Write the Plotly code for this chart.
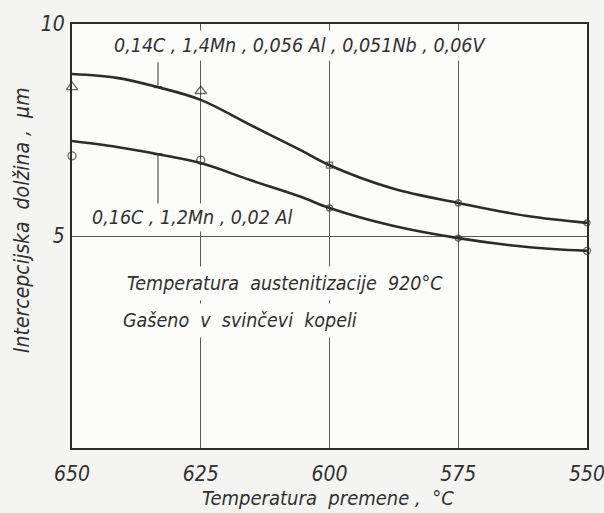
import plotly.graph_objects as go

# Transformation temperature (°C) of the measured points
temp_pts = [650, 625, 600, 575, 550]
# Measured intercept length (µm)
steel_nb_v_pts = [8.51, 8.42, 6.67, 5.78, 5.31]   # 0,14C 1,4Mn 0,056Al 0,051Nb 0,06V
steel_al_pts = [6.89, 6.79, 5.66, 4.95, 4.65]     # 0,16C 1,2Mn 0,02Al

# Smoothed trend curves through the measurements
temp_curve = [650, 641.3, 633.3, 625, 615.4, 605.7, 600, 587.7, 575, 561.6, 550]
steel_nb_v_curve = [8.82, 8.73, 8.51, 8.21, 7.62, 7.03, 6.67, 6.12, 5.78, 5.47, 5.31]
steel_al_curve = [7.24, 7.10, 6.93, 6.72, 6.32, 5.93, 5.66, 5.24, 4.95, 4.74, 4.65]

# Leader lines from the labels down/up to the curves (label end, curve end)
leader_temp = 633.3
leader_nb_v = [9.1, 8.51]
leader_al = [5.73, 6.93]

x_ticks = [650, 625, 600, 575, 550]
y_ticks = [5, 10]

INK = "#2c2c2c"
GRID = "#5a5a5a"
PAPER = "#f4f4f2"
PLOT = "#fcfcfb"
FONT = dict(family="DejaVu Sans Condensed, DejaVu Sans", color="#303030", style="italic")

fig = go.Figure()

for curve in (steel_nb_v_curve, steel_al_curve):
    fig.add_trace(go.Scatter(
        x=temp_curve, y=curve, mode="lines",
        line=dict(color=INK, width=2.6, shape="spline", smoothing=1.0),
        hoverinfo="skip", showlegend=False, cliponaxis=False))

for ys in (leader_nb_v, leader_al):
    fig.add_trace(go.Scatter(
        x=[leader_temp, leader_temp], y=ys, mode="lines",
        line=dict(color=GRID, width=1.2), hoverinfo="skip", showlegend=False))
    fig.add_trace(go.Scatter(
        x=[leader_temp], y=[ys[1]], mode="markers",
        marker=dict(symbol="line-ew", size=6, line=dict(color=INK, width=2)),
        hoverinfo="skip", showlegend=False))

fig.add_trace(go.Scatter(
    x=temp_pts, y=steel_nb_v_pts, mode="markers", cliponaxis=False,
    marker=dict(symbol=["triangle-up-open", "triangle-up-open", "square-open",
                        "circle-open", "circle-open"],
                size=[10, 10, 6, 6, 6], color=INK, line=dict(color=INK, width=1.3)),
    showlegend=False))
fig.add_trace(go.Scatter(
    x=temp_pts, y=steel_al_pts, mode="markers", cliponaxis=False,
    marker=dict(symbol="circle-open", size=[8, 8, 6, 6, 7], color=INK,
                line=dict(color=INK, width=1.3)),
    showlegend=False))


# positions in paper fractions of the plot area (72..587 px, 24..448 px)
def px(xp):
    return (xp - 72) / (587 - 72)


def py(yp):
    return (448 - yp) / (448 - 24)


def label(text, x, y, pad=2, size=19.5):
    fig.add_annotation(
        text=text, x=px(x), y=py(y), xref="paper", yref="paper",
        xanchor="left", yanchor="middle", showarrow=False,
        font=dict(size=size, **FONT), bgcolor=PLOT, borderpad=pad)


label("0,14C , 1,4Mn , 0,056 Al , 0,051Nb , 0,06V", 110, 45, pad=3)
label("0,16C , 1,2Mn , 0,02 Al", 89, 217)
label("Temperatura  austenitizacije  920°C", 121, 283, pad=5)
label("Gašeno  v  svinčevi  kopeli", 117, 320, pad=5)

fig.add_annotation(
    text="Intercepcijska  dolžina ,  µm", x=px(22), y=py(220),
    xref="paper", yref="paper", xanchor="center", yanchor="middle",
    textangle=-90, showarrow=False, font=dict(size=21, **FONT))
fig.add_annotation(
    text="Temperatura  premene ,  °C", x=px(328), y=py(498),
    xref="paper", yref="paper", xanchor="center", yanchor="middle",
    showarrow=False, font=dict(size=20, **FONT))

fig.update_xaxes(
    range=[650, 550], tickvals=x_ticks, ticktext=[str(v) for v in x_ticks],
    showgrid=True, gridcolor=GRID, gridwidth=1.2, zeroline=False,
    showline=True, linecolor=INK, linewidth=2, mirror=True,
    ticks="", ticklabelstandoff=6, ticklabeloverflow="allow", automargin=False,
    tickfont=dict(size=21, **FONT))
fig.update_yaxes(
    range=[0, 10], tickvals=y_ticks, ticktext=[str(v) for v in y_ticks],
    showgrid=True, gridcolor=GRID, gridwidth=1.2, zeroline=False,
    showline=True, linecolor=INK, linewidth=2, mirror=True,
    ticks="", ticklabelstandoff=1, ticklabeloverflow="allow", automargin=False,
    tickfont=dict(size=21, **FONT))

fig.update_layout(
    width=604, height=513,
    margin=dict(l=72, r=17, t=24, b=65),
    paper_bgcolor=PAPER, plot_bgcolor=PLOT,
    showlegend=False)

fig.write_html("out.html")
